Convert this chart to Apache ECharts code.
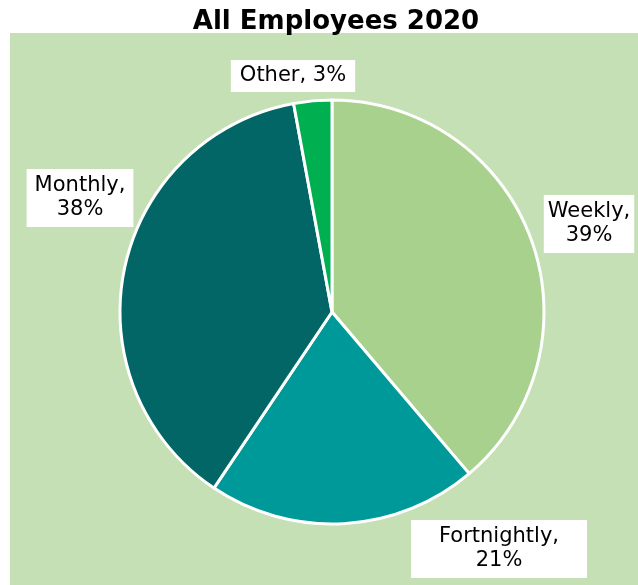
<!DOCTYPE html>
<html>
<head>
<meta charset="utf-8">
<script src="https://cdn.jsdelivr.net/npm/echarts@6/dist/echarts.min.js"></script>
<style>html,body{margin:0;padding:0;background:#fff;}#c{width:638px;height:585px;}</style>
</head>
<body>
<div id="c"></div>
<script>
var categories = ['Weekly', 'Fortnightly', 'Monthly', 'Other'];
var values = [38.8, 20.6, 37.7, 2.9];
var labelTexts = ['Weekly,\n39%', 'Fortnightly,\n21%', 'Monthly,\n38%', 'Other, 3%'];
var colors = ['#A9D18E', '#009999', '#026666', '#00B050'];

// label box centers (chart pixels) and paddings
var labelPos = {
  Weekly: [589, 224],
  Fortnightly: [499, 549],
  Monthly: [80, 198],
  Other: [293, 76]
};
var labelPad = {
  Weekly: [5, 4],
  Fortnightly: [5, 28],
  Monthly: [5, 8],
  Other: [4, 9]
};

var data = categories.map(function (c, i) {
  return {
    name: c,
    value: values[i],
    itemStyle: { color: colors[i] },
    label: { padding: labelPad[c] }
  };
});

var chart = echarts.init(document.getElementById('c'), null, { renderer: 'canvas' });
chart.setOption({
  animation: false,
  backgroundColor: '#ffffff',
  title: {
    text: 'All Employees 2020',
    left: 331,
    textAlign: 'center',
    top: 4,
    textStyle: { fontFamily: 'DejaVu Sans', fontWeight: 'bold', fontSize: 26, color: '#000' }
  },
  graphic: [{
    type: 'rect',
    z: -10,
    shape: { x: 10, y: 33, width: 628, height: 552 },
    style: { fill: '#C5E0B4' },
    silent: true
  }],
  series: [{
    type: 'pie',
    center: [332, 312],
    radius: 212,
    startAngle: 90,
    clockwise: true,
    avoidLabelOverlap: false,
    itemStyle: { borderColor: '#ffffff', borderWidth: 3 },
    label: {
      show: true,
      position: 'outside',
      formatter: function (p) { return labelTexts[p.dataIndex]; },
      fontFamily: 'DejaVu Sans',
      fontSize: 21,
      lineHeight: 24,
      color: '#000',
      backgroundColor: '#ffffff',
      align: 'center'
    },
    labelLine: { show: false },
    labelLayout: function (p) {
      var pos = labelPos[categories[p.dataIndex]];
      return { x: pos[0], y: pos[1], align: 'center', verticalAlign: 'middle' };
    },
    data: data
  }]
});
</script>
</body>
</html>
